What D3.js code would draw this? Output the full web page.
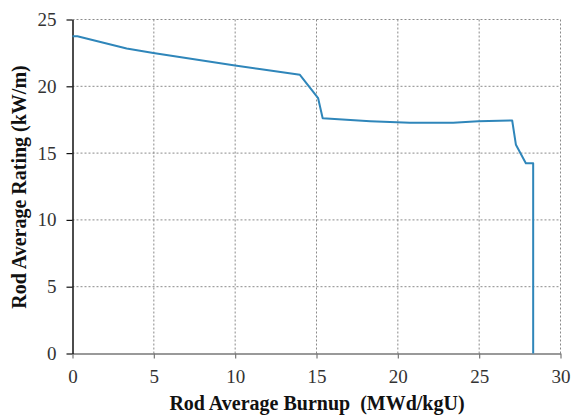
<!DOCTYPE html>
<html>
<head>
<meta charset="utf-8">
<script src="https://cdn.jsdelivr.net/npm/d3@7"></script>
<style>
  html, body { margin: 0; padding: 0; background: #fff; }
  svg { display: block; }
  svg text { font-family: 'Liberation Serif', 'Times New Roman', serif; }
</style>
</head>
<body>
<svg id="chart" width="571" height="417"></svg>
<script>
// Rod average linear rating vs. rod average burnup
const burnup = [0, 0.3, 3.33, 4.97, 9.99, 11.5, 13.98, 15.1, 15.38, 18.3, 19.93, 20.74, 23.4, 24.94, 27.03, 27.26, 27.87, 28.32, 28.32];
const rating = [23.75, 23.75, 22.83, 22.5, 21.56, 21.3, 20.86, 19.11, 17.61, 17.39, 17.31, 17.27, 17.27, 17.39, 17.44, 15.62, 14.24, 14.24, 0];
const xTicks = [0, 5, 10, 15, 20, 25, 30];
const yTicks = [0, 5, 10, 15, 20, 25];

const svg = d3.select("#chart");
const plotLeft = 72.5, plotRight = 560.5, plotTop = 19.5, plotBottom = 353.5;

const x = d3.scaleLinear().domain([0, 30]).range([plotLeft, plotRight]);
const y = d3.scaleLinear().domain([0, 25]).range([plotBottom, plotTop]);

const font = "'Liberation Serif', 'Times New Roman', serif";

// dotted grid
const grid = svg.append("g");
grid.selectAll("line.v").data(xTicks.filter(d => d > 0)).join("line")
  .attr("class", "v")
  .attr("x1", d => x(d)).attr("x2", d => x(d))
  .attr("y1", plotTop).attr("y2", plotBottom)
  .attr("stroke", "#8a8a8a").attr("stroke-width", 1).attr("stroke-dasharray", "2,2");
grid.selectAll("line.h").data(yTicks.filter(d => d > 0)).join("line")
  .attr("class", "h")
  .attr("x1", plotLeft).attr("x2", plotRight)
  .attr("y1", d => y(d)).attr("y2", d => y(d))
  .attr("stroke", "#8a8a8a").attr("stroke-width", 1).attr("stroke-dasharray", "2,2");

// axes
const xAxis = svg.append("g").attr("transform", `translate(0,${plotBottom})`)
  .call(d3.axisBottom(x).tickValues(xTicks).tickSize(5).tickSizeOuter(0).tickPadding(11));
const yAxis = svg.append("g").attr("transform", `translate(${plotLeft},0)`)
  .call(d3.axisLeft(y).tickValues(yTicks).tickSize(6).tickSizeOuter(0).tickPadding(10));

xAxis.attr("font-family", font);
yAxis.attr("font-family", font);
xAxis.select(".domain").attr("stroke", "#777").attr("stroke-width", 1.5);
xAxis.selectAll(".tick line").attr("stroke", "#777").attr("stroke-width", 1.2);
yAxis.select(".domain").attr("stroke", "#111").attr("stroke-width", 1.5);
yAxis.selectAll(".tick line").attr("stroke", "#111").attr("stroke-width", 1.2);

[xAxis, yAxis].forEach(g => g.selectAll(".tick text")
  .style("font-family", font).style("font-size", "19px").attr("fill", "#333"));

// line
const line = d3.line().x((d, i) => x(burnup[i])).y((d, i) => y(rating[i]));
svg.append("path")
  .datum(rating)
  .attr("d", line)
  .attr("fill", "none")
  .attr("stroke", "#2f86ba")
  .attr("stroke-width", 2)
  .attr("stroke-linejoin", "round");

// axis titles
svg.append("text")
  .attr("x", 317).attr("y", 410)
  .attr("text-anchor", "middle")
  .attr("font-family", font).attr("font-size", 20).attr("font-weight", "bold").attr("fill", "#111")
  .attr("xml:space", "preserve")
  .text("Rod Average Burnup  (MWd/kgU)");

svg.append("text")
  .attr("transform", `translate(26,187) rotate(-90)`)
  .attr("text-anchor", "middle")
  .attr("font-family", font).attr("font-size", 20).attr("font-weight", "bold").attr("fill", "#111")
  .text("Rod Average Rating  (kW/m)");
</script>
</body>
</html>
